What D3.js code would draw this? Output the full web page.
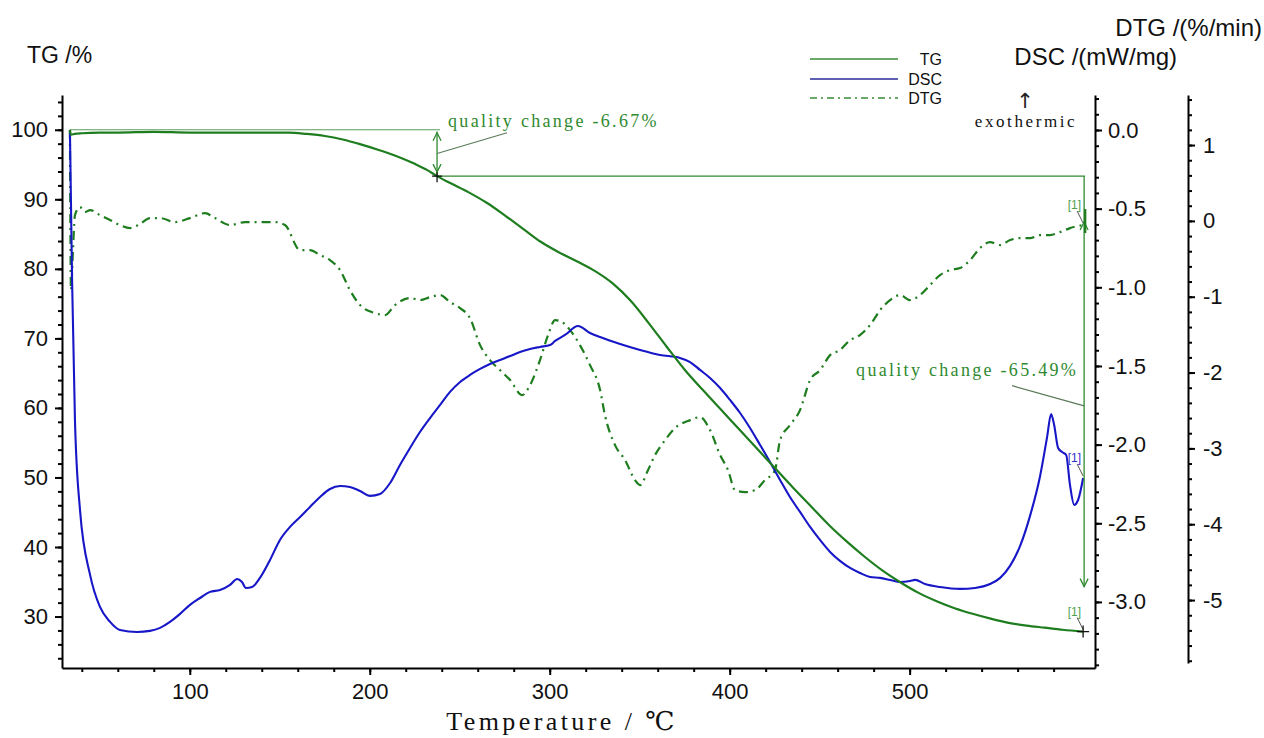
<!DOCTYPE html>
<html>
<head>
<meta charset="utf-8">
<script src="https://cdn.jsdelivr.net/npm/d3@7"></script>
<style>
  body { margin: 0; background: #fff; }
  svg { display: block; }
  .axis path, .axis line { stroke: #000; stroke-width: 2; }
  .axis text { font-family: "Liberation Sans", Arial, sans-serif; font-size: 22px; fill: #111; }
</style>
</head>
<body>
<svg id="chart" width="1264" height="738"></svg>
<script>
// ---- TG: residual mass (%) vs temperature (°C)
const tgTemp = [33.4, 34.0, 36, 40, 50, 60, 80, 100, 120, 140, 155, 165, 175, 185, 195, 205, 215, 225, 232, 237.4,
  245, 255, 265, 275, 285, 295, 305, 315, 325, 335, 345, 355, 365, 375, 385, 395, 405, 415, 425, 435,
  445, 455, 465, 475, 485, 495, 505, 515, 525, 535, 545, 555, 565, 575, 585, 596.4];
const tgMass = [100, 99.3, 99.4, 99.5, 99.6, 99.6, 99.7, 99.6, 99.6, 99.6, 99.6, 99.4, 99.1, 98.6, 97.9, 97.1, 96.2, 95.1, 94.2, 93.33,
  92.3, 91.0, 89.5, 87.7, 85.8, 83.9, 82.4, 81.1, 79.7, 77.9, 75.4, 72.2, 68.8, 65.5, 62.6, 59.8, 57.0, 54.2, 51.4, 48.6,
  45.9, 43.2, 40.8, 38.6, 36.6, 34.9, 33.4, 32.2, 31.2, 30.4, 29.7, 29.1, 28.7, 28.4, 28.1, 27.84];

// ---- DSC: heat flow (mW/mg)
const dscTemp = [33.4, 34.0, 34.6, 36.2, 39.0, 44.6, 50.1, 55.7, 61.2, 70.7, 77.9, 83.5, 89.0, 94.6, 100.1, 105.7, 111.2, 116.8,
  122.4, 126.3, 129.0, 131.2, 134.6, 139.0, 144.6, 150.1, 155.7, 161.3, 166.8, 172.4, 177.9, 183.5, 189.0, 194.6, 200.2,
  205.7, 211.3, 216.8, 222.4, 227.9, 233.5, 239.1, 244.6, 250.2, 255.7, 261.3, 266.8, 272.4, 278.0, 283.5, 289.1, 294.6,
  300.2, 303.0, 308.5, 315.7, 322.4, 328.0, 339.1, 350.2, 361.3, 372.4, 378.0, 383.5, 389.1, 394.7, 400.2, 405.8, 411.3,
  416.9, 422.4, 428.0, 433.5, 439.1, 444.7, 450.2, 455.8, 461.3, 466.9, 472.4, 478.0, 483.6, 489.1, 494.7, 500.2, 503.0,
  508.6, 516.9, 528.0, 536.4, 544.7, 550.3, 555.8, 561.4, 566.9, 572.5, 576.4, 578.6, 580.3, 582.5, 584.7, 587.0, 589.1,
  591.4, 593.6, 596.4];
const dscHeat = [0, -0.477, -0.953, -1.843, -2.415, -2.828, -3.032, -3.127, -3.178, -3.191, -3.184, -3.165, -3.127, -3.076,
  -3.019, -2.975, -2.936, -2.924, -2.892, -2.854, -2.873, -2.911, -2.905, -2.847, -2.733, -2.606, -2.523, -2.460, -2.396,
  -2.333, -2.282, -2.263, -2.269, -2.295, -2.326, -2.314, -2.244, -2.129, -2.021, -1.920, -1.831, -1.748, -1.665, -1.602,
  -1.557, -1.519, -1.487, -1.462, -1.437, -1.411, -1.392, -1.379, -1.367, -1.341, -1.303, -1.246, -1.290, -1.316, -1.360,
  -1.398, -1.430, -1.449, -1.475, -1.525, -1.576, -1.640, -1.716, -1.799, -1.894, -2.002, -2.110, -2.225, -2.333, -2.428,
  -2.523, -2.606, -2.682, -2.739, -2.784, -2.816, -2.841, -2.847, -2.860, -2.873, -2.867, -2.860, -2.886, -2.905, -2.917,
  -2.911, -2.886, -2.847, -2.771, -2.644, -2.453, -2.199, -1.951, -1.805, -1.875, -2.021, -2.047, -2.066, -2.256, -2.383,
  -2.352, -2.212];

// ---- DTG: mass loss rate (%/min)
const dtgTemp = [33.4, 34.0, 35.1, 36.2, 39.0, 41.8, 44.6, 50.1, 55.7, 61.2, 66.8, 72.3, 77.9, 83.5, 91.8, 100.1, 108.5,
  114.0, 122.4, 130.7, 139.0, 147.4, 152.9, 161.3, 166.8, 172.4, 177.9, 183.5, 189.0, 194.6, 202.9, 208.5, 214.0, 222.4,
  227.9, 233.5, 239.1, 244.6, 250.2, 255.7, 261.3, 266.8, 272.4, 278.0, 284.6, 289.1, 294.6, 299.1, 303.0, 306.8, 311.3,
  316.8, 322.4, 328.0, 330.7, 336.3, 341.9, 347.4, 350.2, 354.6, 358.5, 364.1, 369.6, 378.0, 383.5, 389.1, 394.7, 399.1,
  403.0, 408.5, 414.1, 419.6, 425.2, 428.0, 433.5, 439.1, 444.7, 450.2, 455.8, 461.3, 466.9, 472.4, 478.0, 483.6, 489.1,
  494.7, 500.2, 505.8, 511.3, 516.9, 522.5, 528.0, 533.6, 539.1, 544.7, 550.3, 555.8, 561.4, 566.9, 572.5, 578.0, 583.6,
  589.1, 596.4];
const dtgRate = [1.20, -0.91, -0.385, 0.076, 0.182, 0.116, 0.142, 0.076, 0.011, -0.055, -0.095, -0.042, 0.037, 0.037,
  -0.016, 0.037, 0.103, 0.037, -0.055, -0.016, -0.016, -0.016, -0.055, -0.385, -0.385, -0.451, -0.517, -0.649, -0.913,
  -1.110, -1.216, -1.242, -1.110, -1.018, -1.044, -1.005, -0.978, -1.071, -1.150, -1.282, -1.638, -1.836, -1.968, -2.099,
  -2.297, -2.165, -1.836, -1.506, -1.308, -1.334, -1.440, -1.638, -1.902, -2.231, -2.561, -2.957, -3.155, -3.419, -3.485,
  -3.287, -3.089, -2.891, -2.733, -2.627, -2.588, -2.759, -3.089, -3.287, -3.551, -3.577, -3.551, -3.419, -3.287, -2.891,
  -2.693, -2.495, -2.099, -1.968, -1.770, -1.704, -1.572, -1.506, -1.374, -1.176, -1.044, -0.978, -1.044, -0.978, -0.847,
  -0.715, -0.649, -0.622, -0.517, -0.359, -0.280, -0.319, -0.253, -0.227, -0.227, -0.187, -0.187, -0.148, -0.095, -0.055];

// ---- tick labels
const tempTicks = [100, 200, 300, 400, 500];
const tgTicks = [30, 40, 50, 60, 70, 80, 90, 100];
const dscTicks = [0.0, -0.5, -1.0, -1.5, -2.0, -2.5, -3.0];
const dtgTicks = [1, 0, -1, -2, -3, -4, -5];

// ---- mass-loss steps (TG %)
const stepLabels = ["quality change -6.67%", "quality change -65.49%"];
const stepStart = [100, 93.33];
const stepEnd = [93.33, 27.84];
const stepTemp = [237.4, 596.4];

const seriesNames = ["TG", "DSC", "DTG"];

const GREEN = "#1e7d1e";
const BLUE = "#1717c8";
const NOTE = "#2f8a2f";

const svg = d3.select("#chart");

const x = d3.scaleLinear().domain([29, 603]).range([62, 1095]);
const yTG = d3.scaleLinear().domain([22.6, 105]).range([668, 95]);
const yDSC = d3.scaleLinear().domain([-3.42, 0.2225]).range([668, 95]);
const yDTG = d3.scaleLinear().domain([-5.83, 1.66]).range([663, 95]);

// ---- axes (minor ticks first, then labelled major ticks)
function drawAxis(axisFn, scale, major, minor, fmt, tx, ty, pad) {
  const g = svg.append("g").attr("class", "axis").attr("transform", `translate(${tx},${ty})`);
  g.call(axisFn(scale).tickValues(minor).tickSize(4).tickSizeOuter(0).tickFormat(""));
  const m = svg.append("g").attr("class", "axis").attr("transform", `translate(${tx},${ty})`);
  m.call(axisFn(scale).tickValues(major).tickSize(7).tickSizeOuter(0).tickPadding(pad).tickFormat(fmt));
  m.select(".domain").remove();
  return m;
}

drawAxis(d3.axisLeft, yTG, tgTicks, d3.range(24, 105, 2), d => String(d), 62, 0, 7);
drawAxis(d3.axisBottom, x, tempTicks, d3.range(40, 600, 20), d => String(d), 0, 668, 8);
drawAxis(d3.axisRight, yDSC, dscTicks, d3.range(-34, 3, 1).map(v => v / 10), d => d.toFixed(1), 1095, 0, 6);
drawAxis(d3.axisRight, yDTG, dtgTicks, d3.range(-29, 9, 1).map(v => v / 5), d => String(d), 1188, 0, 8);

// ---- curves
const lineTG = d3.line().x((d, i) => x(tgTemp[i])).y(d => yTG(d)).curve(d3.curveMonotoneX);
const lineDSC = d3.line().x((d, i) => x(dscTemp[i])).y(d => yDSC(d)).curve(d3.curveMonotoneX);
const lineDTG = d3.line().x((d, i) => x(dtgTemp[i])).y(d => yDTG(d)).curve(d3.curveMonotoneX);

// reference level at the starting mass
svg.append("line")
  .attr("x1", x(tgTemp[0])).attr("x2", x(stepTemp[0]) + 3)
  .attr("y1", yTG(stepStart[0])).attr("y2", yTG(stepStart[0]))
  .attr("stroke", "#5c9c5c").attr("stroke-width", 1.2);

svg.append("path").attr("d", lineDTG(dtgRate)).attr("fill", "none")
  .attr("stroke", GREEN).attr("stroke-width", 2.2).attr("stroke-dasharray", "9,5,2,5");
svg.append("path").attr("d", lineDSC(dscHeat)).attr("fill", "none")
  .attr("stroke", BLUE).attr("stroke-width", 2.1);
svg.append("path").attr("d", lineTG(tgMass)).attr("fill", "none")
  .attr("stroke", GREEN).attr("stroke-width", 2.2);

// ---- step annotations
function chevron(cx, cy, dir) {
  return `M${cx - 4},${cy + 8 * dir} L${cx},${cy} L${cx + 4},${cy + 8 * dir}`;
}
const noteText = (g, tx, ty, s) => g.append("text").attr("x", tx).attr("y", ty).text(s)
  .attr("font-family", "'Liberation Serif', 'Times New Roman', serif").attr("font-size", 18)
  .attr("letter-spacing", "2.3px").attr("fill", NOTE);

const ann = svg.append("g");
// first step
{
  const sx = x(stepTemp[0]);
  const y0 = yTG(stepStart[0]), y1 = yTG(stepEnd[0]);
  ann.append("line").attr("x1", sx).attr("x2", sx).attr("y1", y0 + 2).attr("y2", y1)
    .attr("stroke", NOTE).attr("stroke-width", 1.3);
  ann.append("path").attr("d", chevron(sx, y0 + 3, 1)).attr("fill", "none").attr("stroke", NOTE).attr("stroke-width", 1.3);
  ann.append("path").attr("d", chevron(sx, y1 - 4, -1)).attr("fill", "none").attr("stroke", NOTE).attr("stroke-width", 1.3);
  ann.append("line").attr("x1", sx).attr("x2", x(stepTemp[1]) + 2).attr("y1", y1).attr("y2", y1)
    .attr("stroke", NOTE).attr("stroke-width", 1.3);
  ann.append("line").attr("x1", sx).attr("y1", (y0 + y1) / 2 + 0.5).attr("x2", sx + 70).attr("y2", y0 + 3)
    .attr("stroke", "#5a7a5a").attr("stroke-width", 1.2);
  ann.append("path").attr("d", `M${sx - 5},${y1} h10 M${sx},${y1 - 4} v10`).attr("stroke", "#111").attr("stroke-width", 1.3);
  noteText(ann, sx + 11, y0 - 3, stepLabels[0]);
}
// second step
{
  const sx = x(stepTemp[1]) + 1;
  const y0 = yTG(stepStart[1]), yEnd = yTG(stepEnd[1]);
  const yTip = yTG(34.3);
  ann.append("line").attr("x1", sx).attr("x2", sx).attr("y1", y0).attr("y2", yTip)
    .attr("stroke", NOTE).attr("stroke-width", 1.3);
  ann.append("path").attr("d", chevron(sx, yDTG(dtgRate[dtgRate.length - 1]) - 3, 1)).attr("fill", "none").attr("stroke", NOTE).attr("stroke-width", 1.3);
  ann.append("path").attr("d", chevron(sx, yTip, -1)).attr("fill", "none").attr("stroke", NOTE).attr("stroke-width", 1.3);
  ann.append("line").attr("x1", sx - 72).attr("y1", yTG(63.2)).attr("x2", sx).attr("y2", yTG(60.3))
    .attr("stroke", "#5a7a5a").attr("stroke-width", 1.2);
  noteText(ann, sx - 228, yTG(63.3) - 9, stepLabels[1]);

  // end-point markers
  const tEnd = stepTemp[1];
  const markers = [
    { y: yDTG(dtgRate[dtgRate.length - 1]), c: "#4f9f4f" },
    { y: yDSC(dscHeat[dscHeat.length - 1]), c: "#3030d0" },
    { y: yEnd, c: "#4f9f4f" }
  ];
  markers.forEach(m => {
    ann.append("text").attr("x", x(tEnd) - 2).attr("y", m.y - 16).attr("text-anchor", "end")
      .attr("font-family", "'Liberation Sans', Arial, sans-serif").attr("font-size", 12)
      .attr("fill", m.c).text("[1]");
    ann.append("line").attr("x1", x(tEnd) - 6).attr("y1", m.y - 14).attr("x2", x(tEnd)).attr("y2", m.y - 2)
      .attr("stroke", "#555").attr("stroke-width", 1);
  });
  ann.append("path").attr("d", `M${x(tEnd) - 6},${yEnd} h12 M${x(tEnd)},${yEnd - 6} v12`)
    .attr("stroke", "#111").attr("stroke-width", 1.3);
  ann.append("line").attr("x1", sx + 1).attr("x2", sx + 1)
    .attr("y1", yDTG(dtgRate[dtgRate.length - 1]) - 16).attr("y2", yDTG(dtgRate[dtgRate.length - 1]) + 8)
    .attr("stroke", GREEN).attr("stroke-width", 2.4);
}

// ---- legend
const legY = [59, 79, 98];
const legStyle = [
  { c: "#3a8c3a", dash: null },
  { c: "#2b2b9a", dash: null },
  { c: "#3a8c3a", dash: "7,4,2,4" }
];
seriesNames.forEach((name, i) => {
  svg.append("line").attr("x1", 810).attr("x2", 898).attr("y1", legY[i]).attr("y2", legY[i])
    .attr("stroke", legStyle[i].c).attr("stroke-width", 1.4)
    .attr("stroke-dasharray", legStyle[i].dash);
  svg.append("text").attr("x", 942).attr("y", legY[i] + 6).attr("text-anchor", "end")
    .attr("font-family", "'Liberation Sans', Arial, sans-serif").attr("font-size", 16)
    .attr("fill", "#111").text(name);
});

// ---- axis titles
const sans = "'Liberation Sans', Arial, sans-serif";
svg.append("text").attr("x", 27).attr("y", 63).attr("font-family", sans).attr("font-size", 23)
  .attr("fill", "#111").text("TG /%");
svg.append("text").attr("x", 1262).attr("y", 36).attr("text-anchor", "end").attr("font-family", sans)
  .attr("font-size", 24).attr("fill", "#111").text("DTG /(%/min)");
svg.append("text").attr("x", 1177).attr("y", 65).attr("text-anchor", "end").attr("font-family", sans)
  .attr("font-size", 24).attr("fill", "#111").text("DSC /(mW/mg)");

svg.append("text").attr("x", 1025).attr("y", 108).attr("text-anchor", "middle")
  .attr("font-family", "'DejaVu Sans', sans-serif").attr("font-size", 21).attr("fill", "#222").text("↑");
svg.append("text").attr("x", 1026).attr("y", 127).attr("text-anchor", "middle")
  .attr("font-family", "'Liberation Serif', 'Times New Roman', serif").attr("font-size", 17)
  .attr("letter-spacing", "2.6px").attr("fill", "#111").text("exothermic");

svg.append("text").attr("x", 562).attr("y", 730).attr("text-anchor", "middle")
  .attr("font-family", "'Liberation Serif', 'DejaVu Serif', 'Times New Roman', serif").attr("font-size", 26)
  .attr("letter-spacing", "3.4px").attr("fill", "#111").text("Temperature / ℃");
</script>
</body>
</html>
